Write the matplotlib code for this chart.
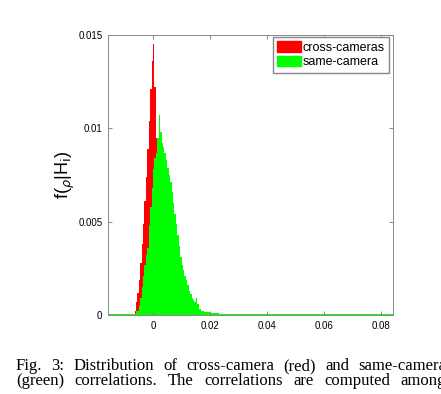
import matplotlib.pyplot as plt
from matplotlib.patches import Patch

# === Histogram data (bin edges and densities) ===
red_edges = [-0.0065, -0.006, -0.0055, -0.005, -0.0045, -0.004, -0.0035, -0.003,
             -0.0025, -0.002, -0.0015, -0.001, -0.0005, 0.0, 0.0005, 0.001,
             0.0015, 0.002, 0.0025, 0.003]
red_vals = [0.0002, 0.0007, 0.0012, 0.0019, 0.0028, 0.0038, 0.0049, 0.0061,
            0.0074, 0.0089, 0.0104, 0.0121, 0.0136, 0.0145, 0.0122, 0.0095,
            0.0060, 0.0030, 0.0010]

green_edges = [-0.0158, -0.006, -0.005, -0.0045, -0.004, -0.0035, -0.003, -0.0025,
               -0.002, -0.0015, -0.001, -0.0005, 0.0, 0.0005, 0.001, 0.0015,
               0.002, 0.0025, 0.003, 0.0035, 0.004, 0.0045, 0.005, 0.0055,
               0.006, 0.0065, 0.007, 0.0075, 0.008, 0.0085, 0.009, 0.0095,
               0.01, 0.0105, 0.011, 0.0115, 0.012, 0.0125, 0.013, 0.0135,
               0.014, 0.0145, 0.015, 0.0155, 0.016, 0.017, 0.018, 0.02,
               0.023, 0.028, 0.0842]
green_vals = [0.00008, 0.0002, 0.0005, 0.0009, 0.0015, 0.0021, 0.0027, 0.0032,
              0.0036, 0.0048, 0.0058, 0.0068, 0.0078, 0.0084, 0.0087, 0.0095,
              0.0107, 0.0098, 0.0092, 0.0090, 0.0087, 0.0083, 0.0079, 0.0075,
              0.0071, 0.0066, 0.0060, 0.0054, 0.0049, 0.0043, 0.0037, 0.0031,
              0.0027, 0.0024, 0.0021, 0.0019, 0.0016, 0.0013, 0.0011, 0.0009,
              0.0008, 0.0007, 0.0009, 0.0006, 0.0003, 0.0002, 0.00015, 0.0001,
              0.00008, 0.00006]

x_ticks = [0, 0.02, 0.04, 0.06, 0.08]
x_labels = ["0", "0.02", "0.04", "0.06", "0.08"]
y_ticks = [0, 0.005, 0.01, 0.015]
y_labels = ["0", "0.005", "0.01", "0.015"]

caption_lines = ["Fig. 3: Distribution of cross-camera (red) and same-camera",
                 "(green) correlations. The correlations are computed among"]

W, H = 441, 394
fig = plt.figure(figsize=(W / 100, H / 100), dpi=100)
ax = fig.add_axes([108 / W, 1 - 315 / H, 285 / W, 280 / H])

ax.fill_between(red_edges, red_vals + [red_vals[-1]], step="post",
                color="#ff0000", lw=0)
ax.fill_between(green_edges, green_vals + [green_vals[-1]], step="post",
                color="#00ff00", lw=0)

ax.set_xlim(-0.0158, 0.0842)
ax.set_ylim(0, 0.015)
ax.set_xticks(x_ticks)
ax.set_xticklabels(x_labels)
ax.set_yticks(y_ticks)
ax.set_yticklabels(y_labels)
ax.tick_params(direction="in", length=3, width=0.6, labelsize=7,
               top=True, right=True, color="#777777", pad=4)
for lab in ax.get_xticklabels() + ax.get_yticklabels():
    lab.set_family("Liberation Sans")
for s in ax.spines.values():
    s.set_color("#888888")
    s.set_linewidth(0.7)

ax.set_ylabel(r"f($_\rho$|H$_{\rm i}$)", fontsize=13, labelpad=1,
              family="Liberation Sans")

handles = [Patch(color="#ff0000", label="cross-cameras"),
           Patch(color="#00ff00", label="same-camera")]
ax.legend(handles=handles, loc="upper right",
          bbox_to_anchor=((389 - 108) / 285, (315 - 37) / 280),
          prop={"family": "Liberation Sans", "size": 9}, frameon=True,
          fancybox=False, edgecolor="#888888", framealpha=1,
          handlelength=1.9, handleheight=0.9, handletextpad=0.15,
          borderpad=0.35, labelspacing=0.15, borderaxespad=0)

# === Caption: justified lines of the paper column (runs past the right edge) ===
renderer = fig.canvas.get_renderer()
col_left, col_right = 16, 446
for line, base in zip(caption_lines, [370, 385]):
    words = line.split(" ")
    texts = [fig.text(0, 1 - base / H, w, fontsize=12, family="Liberation Serif",
                      va="baseline", ha="left") for w in words]
    widths = [t.get_window_extent(renderer).width for t in texts]
    gap = (col_right - col_left - sum(widths)) / (len(words) - 1)
    xpx = col_left
    for t, wd in zip(texts, widths):
        t.set_x(xpx / W)
        xpx += wd + gap

plt.savefig("out.png", dpi=100)
plt.close()
